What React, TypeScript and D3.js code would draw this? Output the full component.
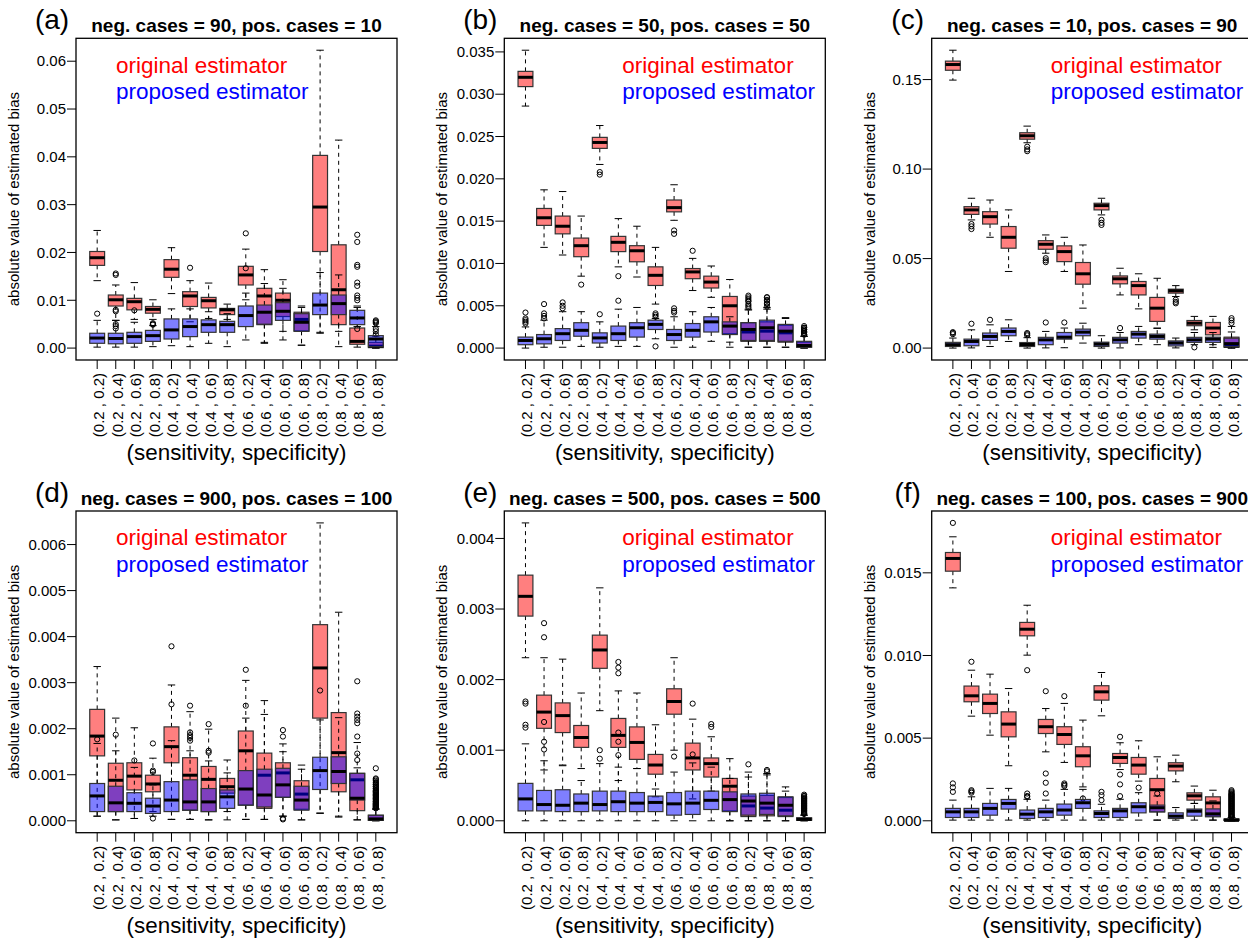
import React from "react";
import * as d3 from "d3";

// ---------- data ----------
const categories = [
  "(0.2 , 0.2)", "(0.2 , 0.4)", "(0.2 , 0.6)", "(0.2 , 0.8)",
  "(0.4 , 0.2)", "(0.4 , 0.4)", "(0.4 , 0.6)", "(0.4 , 0.8)",
  "(0.6 , 0.2)", "(0.6 , 0.4)", "(0.6 , 0.6)", "(0.6 , 0.8)",
  "(0.8 , 0.2)", "(0.8 , 0.4)", "(0.8 , 0.6)", "(0.8 , 0.8)",
];
const panelLetters = ["(a)", "(b)", "(c)", "(d)", "(e)", "(f)"];
const panelTitles = [
  "neg. cases = 90, pos. cases = 10",
  "neg. cases = 50, pos. cases = 50",
  "neg. cases = 10, pos. cases = 90",
  "neg. cases = 900, pos. cases = 100",
  "neg. cases = 500, pos. cases = 500",
  "neg. cases = 100, pos. cases = 900",
];
const seriesNames = ["original estimator", "proposed estimator"];
const xAxisTitle = "(sensitivity, specificity)";
const yAxisTitle = "absolute value of estimated bias";

const yTicksA = [0, 0.01, 0.02, 0.03, 0.04, 0.05, 0.06];
const yTicksB = [0, 0.005, 0.01, 0.015, 0.02, 0.025, 0.03, 0.035];
const yTicksC = [0, 0.05, 0.1, 0.15];
const yTicksD = [0, 0.001, 0.002, 0.003, 0.004, 0.005, 0.006];
const yTicksE = [0, 0.001, 0.002, 0.003, 0.004];
const yTicksF = [0, 0.005, 0.01, 0.015];
const yTickFormats = [".2f", ".3f", ".2f", ".3f", ".3f", ".3f"];

// each box: [lower whisker, Q1, median, Q3, upper whisker]
// panel (a)
const aOrig = [
  [0.0141, 0.0173, 0.0189, 0.0202, 0.0246], [0.0058, 0.0088, 0.0101, 0.0111, 0.0132],
  [0.0060, 0.0080, 0.0097, 0.0104, 0.0137], [0.0060, 0.0073, 0.0081, 0.0087, 0.0101],
  [0.0114, 0.0148, 0.0165, 0.0185, 0.0210], [0.0055, 0.0087, 0.0109, 0.0118, 0.0141],
  [0.0062, 0.0084, 0.0099, 0.0106, 0.0136], [0.0060, 0.0070, 0.0080, 0.0083, 0.0092],
  [0.0101, 0.0132, 0.0153, 0.0171, 0.0207], [0.0010, 0.0049, 0.0109, 0.0125, 0.0164],
  [0.0035, 0.0066, 0.0100, 0.0115, 0.0143], [0.0006, 0.0036, 0.0060, 0.0075, 0.0088],
  [0.0033, 0.0202, 0.0295, 0.0403, 0.0623], [0.0003, 0.0049, 0.0122, 0.0216, 0.0435],
  [0.0002, 0.0008, 0.0014, 0.0042, 0.0088], [0.0000, 0.0001, 0.0004, 0.0012, 0.0025],
];
const aOrigOut = [
  [], [0.0153, 0.0156, 0.0050, 0.0046, 0.0041], [], [0.0052, 0.0050, 0.0049], [], [0.0168], [], [],
  [0.0240], [], [], [], [], [],
  [0.0237, 0.0222, 0.0174, 0.0170, 0.0137, 0.0130, 0.0110, 0.0105, 0.0100],
  [0.0029, 0.0035, 0.0040, 0.0052, 0.0054, 0.0056, 0.0058],
];
const aProp = [
  [0.0002, 0.0010, 0.0021, 0.0031, 0.0058], [0.0002, 0.0009, 0.0020, 0.0031, 0.0058],
  [0.0002, 0.0010, 0.0024, 0.0033, 0.0054], [0.0003, 0.0014, 0.0026, 0.0037, 0.0047],
  [0.0005, 0.0019, 0.0038, 0.0061, 0.0082], [0.0003, 0.0024, 0.0045, 0.0061, 0.0082],
  [0.0010, 0.0033, 0.0049, 0.0059, 0.0076], [0.0003, 0.0033, 0.0049, 0.0056, 0.0072],
  [0.0017, 0.0045, 0.0068, 0.0088, 0.0115], [0.0012, 0.0050, 0.0075, 0.0090, 0.0135],
  [0.0017, 0.0058, 0.0077, 0.0095, 0.0125], [0.0006, 0.0035, 0.0054, 0.0072, 0.0085],
  [0.0031, 0.0070, 0.0090, 0.0115, 0.0158], [0.0035, 0.0070, 0.0093, 0.0111, 0.0153],
  [0.0045, 0.0049, 0.0063, 0.0079, 0.0085], [0.0000, 0.0003, 0.0019, 0.0026, 0.0045],
];
const aPropOut = [
  [0.0072], [0.0080, 0.0077], [0.0079], [], [], [], [], [], [0.0167], [], [], [], [], [], [0.0040], [],
];

// panel (b)
const bOrig = [
  [0.0286, 0.0309, 0.0320, 0.0327, 0.0352], [0.0119, 0.0145, 0.0154, 0.0165, 0.0187],
  [0.0110, 0.0135, 0.0144, 0.0156, 0.0185], [0.0085, 0.0108, 0.0121, 0.0130, 0.0156],
  [0.0217, 0.0236, 0.0243, 0.0249, 0.0263], [0.0096, 0.0114, 0.0125, 0.0132, 0.0153],
  [0.0084, 0.0102, 0.0115, 0.0121, 0.0144], [0.0052, 0.0074, 0.0086, 0.0096, 0.0119],
  [0.0151, 0.0161, 0.0166, 0.0175, 0.0193], [0.0068, 0.0082, 0.0090, 0.0094, 0.0106],
  [0.0060, 0.0071, 0.0078, 0.0085, 0.0097], [0.0001, 0.0017, 0.0050, 0.0061, 0.0081],
  [0.0001, 0.0008, 0.0019, 0.0030, 0.0045], [0.0001, 0.0008, 0.0020, 0.0031, 0.0046],
  [0.0001, 0.0007, 0.0018, 0.0027, 0.0035], [0.0000, 0.0001, 0.0003, 0.0007, 0.0014],
];
const bOrigOut = [
  [], [], [], [0.0075], [0.0208, 0.0205], [0.0085], [], [], [0.0139, 0.0135], [0.0115], [], [],
  [0.0048, 0.0052, 0.0056, 0.0060], [0.0049, 0.0053, 0.0057, 0.0060], [],
  [0.0016, 0.0018, 0.0020, 0.0022, 0.0024, 0.0026],
];
const bProp = [
  [0.0000, 0.0004, 0.0009, 0.0013, 0.0025], [0.0001, 0.0005, 0.0011, 0.0016, 0.0033],
  [0.0001, 0.0009, 0.0017, 0.0023, 0.0043], [0.0002, 0.0014, 0.0021, 0.0030, 0.0043],
  [0.0001, 0.0006, 0.0012, 0.0018, 0.0031], [0.0002, 0.0009, 0.0017, 0.0026, 0.0046],
  [0.0002, 0.0013, 0.0024, 0.0030, 0.0048], [0.0011, 0.0022, 0.0028, 0.0033, 0.0035],
  [0.0001, 0.0009, 0.0016, 0.0022, 0.0037], [0.0001, 0.0013, 0.0021, 0.0029, 0.0043],
  [0.0008, 0.0019, 0.0031, 0.0037, 0.0048], [0.0007, 0.0016, 0.0026, 0.0031, 0.0037],
  [0.0001, 0.0009, 0.0022, 0.0030, 0.0046], [0.0001, 0.0009, 0.0024, 0.0033, 0.0048],
  [0.0001, 0.0008, 0.0020, 0.0028, 0.0036], [0.0000, 0.0001, 0.0003, 0.0008, 0.0014],
];
const bPropOut = [
  [0.0029, 0.0031, 0.0033, 0.0035, 0.0042], [0.0035, 0.0038, 0.0041, 0.0052],
  [0.0047, 0.0050, 0.0054], [], [0.0040], [0.0056], [], [0.0037, 0.0039, 0.0041, 0.0002],
  [0.0042, 0.0044, 0.0047], [], [], [], [0.0050, 0.0055, 0.0058, 0.0062],
  [0.0052, 0.0056, 0.0060], [], [0.0016, 0.0018, 0.0020, 0.0022, 0.0024],
];

// panel (c)
const cOrig = [
  [0.1497, 0.1552, 0.1584, 0.1603, 0.1664], [0.0716, 0.0747, 0.0772, 0.0790, 0.0837],
  [0.0619, 0.0693, 0.0734, 0.0762, 0.0827], [0.0428, 0.0558, 0.0619, 0.0679, 0.0772],
  [0.1147, 0.1167, 0.1186, 0.1203, 0.1240], [0.0530, 0.0552, 0.0580, 0.0600, 0.0632],
  [0.0428, 0.0483, 0.0539, 0.0571, 0.0619], [0.0223, 0.0357, 0.0415, 0.0478, 0.0576],
  [0.0744, 0.0772, 0.0796, 0.0809, 0.0837], [0.0297, 0.0359, 0.0387, 0.0403, 0.0446],
  [0.0219, 0.0297, 0.0349, 0.0372, 0.0415], [0.0110, 0.0149, 0.0223, 0.0283, 0.0390],
  [0.0288, 0.0307, 0.0320, 0.0329, 0.0349], [0.0102, 0.0125, 0.0139, 0.0154, 0.0177],
  [0.0019, 0.0074, 0.0112, 0.0143, 0.0177], [0.0000, 0.0004, 0.0012, 0.0061, 0.0121],
];
const cOrigOut = [
  [], [0.0693, 0.0680, 0.0665], [], [], [0.1125, 0.1110, 0.1100], [0.0502, 0.0490, 0.0480], [], [],
  [0.0716, 0.0700, 0.0688], [], [], [], [0.0270, 0.0258, 0.0250], [], [], [0.0140, 0.0155, 0.0167],
];
const cProp = [
  [0.0000, 0.0009, 0.0019, 0.0032, 0.0056], [0.0001, 0.0013, 0.0037, 0.0050, 0.0102],
  [0.0009, 0.0043, 0.0065, 0.0084, 0.0130], [0.0037, 0.0069, 0.0093, 0.0112, 0.0158],
  [0.0000, 0.0009, 0.0020, 0.0031, 0.0058], [0.0001, 0.0019, 0.0046, 0.0060, 0.0093],
  [0.0002, 0.0050, 0.0061, 0.0087, 0.0112], [0.0028, 0.0069, 0.0089, 0.0106, 0.0139],
  [0.0000, 0.0009, 0.0022, 0.0033, 0.0069], [0.0001, 0.0028, 0.0046, 0.0060, 0.0087],
  [0.0019, 0.0056, 0.0078, 0.0093, 0.0121], [0.0019, 0.0050, 0.0065, 0.0078, 0.0112],
  [0.0001, 0.0012, 0.0028, 0.0040, 0.0056], [0.0019, 0.0032, 0.0046, 0.0060, 0.0087],
  [0.0004, 0.0032, 0.0050, 0.0061, 0.0087], [0.0000, 0.0008, 0.0025, 0.0055, 0.0090],
];
const cPropOut = [
  [0.0078, 0.0085, 0.0089], [0.0136], [0.0158], [], [0.0071, 0.0078, 0.0084], [0.0143], [0.0143], [],
  [], [0.0112], [], [], [], [0.0004], [], [],
];

// panel (d)
const dOrig = [
  [0.00010, 0.00141, 0.00184, 0.00242, 0.00335], [0.00002, 0.00020, 0.00088, 0.00125, 0.00223],
  [0.00005, 0.00067, 0.00097, 0.00126, 0.00202], [0.00020, 0.00063, 0.00080, 0.00099, 0.00136],
  [0.00003, 0.00126, 0.00161, 0.00204, 0.00295], [0.00003, 0.00023, 0.00099, 0.00137, 0.00237],
  [0.00002, 0.00020, 0.00090, 0.00118, 0.00199], [0.00020, 0.00060, 0.00074, 0.00092, 0.00132],
  [0.00003, 0.00034, 0.00152, 0.00195, 0.00305], [0.00003, 0.00027, 0.00099, 0.00147, 0.00261],
  [0.00010, 0.00051, 0.00104, 0.00126, 0.00167], [0.00002, 0.00025, 0.00058, 0.00087, 0.00121],
  [0.00016, 0.00223, 0.00332, 0.00426, 0.00647], [0.00008, 0.00063, 0.00148, 0.00235, 0.00453],
  [0.00002, 0.00022, 0.00089, 0.00103, 0.00170], [0.00000, 0.00001, 0.00003, 0.00012, 0.00025],
];
const dOrigOut = [
  [], [], [], [0.00168], [0.00379], [0.00250], [0.00210], [], [0.00328], [], [0.00197, 0.00183], [],
  [], [], [0.00303, 0.00233, 0.00226, 0.00219, 0.00212, 0.00183],
  [0.00114, 0.00092, 0.00087, 0.00082, 0.00078, 0.00074, 0.00070, 0.00066, 0.00063, 0.00060, 0.00057,
   0.00054, 0.00051, 0.00048, 0.00045, 0.00042, 0.00040, 0.00037, 0.00035, 0.00033, 0.00031, 0.00029, 0.00027],
];
const dProp = [
  [0.00010, 0.00020, 0.00054, 0.00081, 0.00168], [0.00002, 0.00020, 0.00039, 0.00075, 0.00152],
  [0.00005, 0.00020, 0.00038, 0.00061, 0.00116], [0.00010, 0.00016, 0.00032, 0.00049, 0.00078],
  [0.00003, 0.00020, 0.00045, 0.00085, 0.00174], [0.00003, 0.00023, 0.00041, 0.00089, 0.00152],
  [0.00002, 0.00020, 0.00041, 0.00070, 0.00130], [0.00002, 0.00027, 0.00052, 0.00067, 0.00104],
  [0.00003, 0.00034, 0.00069, 0.00109, 0.00223], [0.00003, 0.00030, 0.00056, 0.00112, 0.00231],
  [0.00010, 0.00051, 0.00078, 0.00114, 0.00150], [0.00002, 0.00023, 0.00045, 0.00075, 0.00112],
  [0.00017, 0.00068, 0.00109, 0.00138, 0.00219], [0.00010, 0.00081, 0.00107, 0.00139, 0.00224],
  [0.00002, 0.00045, 0.00049, 0.00103, 0.00115], [0.00000, 0.00001, 0.00004, 0.00012, 0.00026],
];
const dPropOut = [
  [0.00177], [0.00187], [0.00131], [0.00109, 0.00106, 0.00005], [0.00253],
  [0.00192, 0.00186, 0.00180, 0.00174], [0.00152, 0.00148], [], [0.00250], [], [0.00005, 0.00003], [],
  [0.00283], [], [0.00146, 0.00132],
  [0.00090, 0.00084, 0.00079, 0.00075, 0.00071, 0.00067, 0.00064, 0.00061, 0.00058, 0.00055, 0.00052,
   0.00049, 0.00046, 0.00043, 0.00041, 0.00038, 0.00036, 0.00034, 0.00032, 0.00030, 0.00028],
];

// panel (e)
const eOrig = [
  [0.00231, 0.00290, 0.00318, 0.00348, 0.00422], [0.00072, 0.00131, 0.00154, 0.00178, 0.00231],
  [0.00079, 0.00125, 0.00149, 0.00167, 0.00229], [0.00074, 0.00104, 0.00118, 0.00135, 0.00181],
  [0.00156, 0.00216, 0.00242, 0.00263, 0.00330], [0.00057, 0.00104, 0.00121, 0.00145, 0.00184],
  [0.00074, 0.00087, 0.00111, 0.00133, 0.00181], [0.00034, 0.00066, 0.00079, 0.00094, 0.00136],
  [0.00100, 0.00151, 0.00169, 0.00187, 0.00231], [0.00031, 0.00072, 0.00089, 0.00110, 0.00144],
  [0.00042, 0.00062, 0.00081, 0.00089, 0.00119], [0.00000, 0.00014, 0.00049, 0.00060, 0.00088],
  [0.00000, 0.00006, 0.00021, 0.00035, 0.00062], [0.00000, 0.00007, 0.00018, 0.00036, 0.00065],
  [0.00000, 0.00006, 0.00015, 0.00033, 0.00042], [0.00000, 0.00001, 0.00002, 0.00004, 0.00008],
];
const eOrigOut = [
  [], [0.00260, 0.00280], [], [], [], [0.00209, 0.00217, 0.00225], [], [], [], [0.00166],
  [0.00133, 0.00137], [], [], [], [],
  [0.00037, 0.00035, 0.00033, 0.00031, 0.00029, 0.00027, 0.00025, 0.00023, 0.00021, 0.00019,
   0.00017, 0.00015, 0.00013, 0.00011, 0.00010],
];
const eProp = [
  [0.00000, 0.00014, 0.00031, 0.00053, 0.00109], [0.00000, 0.00014, 0.00023, 0.00043, 0.00085],
  [0.00000, 0.00013, 0.00022, 0.00044, 0.00078], [0.00000, 0.00013, 0.00025, 0.00038, 0.00057],
  [0.00000, 0.00014, 0.00023, 0.00042, 0.00081], [0.00000, 0.00013, 0.00027, 0.00042, 0.00076],
  [0.00000, 0.00013, 0.00025, 0.00040, 0.00074], [0.00000, 0.00013, 0.00026, 0.00035, 0.00045],
  [0.00000, 0.00008, 0.00024, 0.00040, 0.00069], [0.00000, 0.00009, 0.00025, 0.00042, 0.00082],
  [0.00000, 0.00016, 0.00029, 0.00042, 0.00076], [0.00000, 0.00013, 0.00030, 0.00041, 0.00060],
  [0.00000, 0.00008, 0.00028, 0.00038, 0.00069], [0.00000, 0.00009, 0.00025, 0.00039, 0.00067],
  [0.00000, 0.00007, 0.00022, 0.00034, 0.00048], [0.00000, 0.00001, 0.00002, 0.00004, 0.00008],
];
const ePropOut = [
  [0.00132, 0.00136, 0.00166, 0.00169], [0.00101, 0.00112, 0.00140], [], [], [0.00088, 0.00100],
  [0.00093, 0.00112, 0.00125], [], [], [0.00091], [0.00094], [], [], [0.00080], [0.00070, 0.00072], [],
  [0.00035, 0.00032, 0.00030, 0.00028, 0.00026, 0.00024, 0.00022, 0.00020, 0.00018, 0.00016,
   0.00014, 0.00012, 0.00010],
];

// panel (f)
const fOrig = [
  [0.01409, 0.01510, 0.01587, 0.01623, 0.01718], [0.00633, 0.00720, 0.00756, 0.00815, 0.00911],
  [0.00518, 0.00649, 0.00710, 0.00766, 0.00887], [0.00333, 0.00508, 0.00585, 0.00659, 0.00800],
  [0.01002, 0.01119, 0.01159, 0.01200, 0.01304], [0.00417, 0.00528, 0.00569, 0.00613, 0.00679],
  [0.00353, 0.00462, 0.00522, 0.00569, 0.00710], [0.00205, 0.00327, 0.00393, 0.00448, 0.00609],
  [0.00635, 0.00730, 0.00780, 0.00817, 0.00897], [0.00310, 0.00347, 0.00383, 0.00407, 0.00472],
  [0.00240, 0.00282, 0.00337, 0.00383, 0.00484], [0.00004, 0.00054, 0.00188, 0.00256, 0.00387],
  [0.00236, 0.00302, 0.00331, 0.00351, 0.00397], [0.00105, 0.00125, 0.00151, 0.00169, 0.00210],
  [0.00004, 0.00028, 0.00108, 0.00145, 0.00185], [0.00000, 0.00002, 0.00004, 0.00010, 0.00020],
];
const fOrigOut = [
  [0.01802], [0.00962], [], [], [0.00911], [0.00784], [0.00754], [0.00135], [],
  [0.00508, 0.00280, 0.00220, 0.00149], [0.00200], [], [], [], [],
  [0.00185, 0.00178, 0.00172, 0.00166, 0.00160, 0.00154, 0.00148, 0.00142, 0.00136, 0.00130,
   0.00124, 0.00118, 0.00112, 0.00106, 0.00100, 0.00094, 0.00088, 0.00082, 0.00076, 0.00070,
   0.00064, 0.00058, 0.00052, 0.00046, 0.00040, 0.00034, 0.00028, 0.00024],
];
const fProp = [
  [0.00004, 0.00020, 0.00054, 0.00075, 0.00125], [0.00004, 0.00020, 0.00054, 0.00075, 0.00145],
  [0.00004, 0.00034, 0.00075, 0.00105, 0.00196], [0.00004, 0.00071, 0.00105, 0.00129, 0.00196],
  [0.00004, 0.00014, 0.00040, 0.00065, 0.00130], [0.00004, 0.00020, 0.00054, 0.00075, 0.00125],
  [0.00004, 0.00034, 0.00065, 0.00101, 0.00190], [0.00004, 0.00075, 0.00109, 0.00129, 0.00190],
  [0.00004, 0.00020, 0.00044, 0.00060, 0.00100], [0.00004, 0.00020, 0.00060, 0.00075, 0.00130],
  [0.00004, 0.00048, 0.00085, 0.00109, 0.00170], [0.00004, 0.00054, 0.00079, 0.00095, 0.00150],
  [0.00004, 0.00014, 0.00028, 0.00048, 0.00080], [0.00004, 0.00028, 0.00058, 0.00071, 0.00105],
  [0.00004, 0.00024, 0.00042, 0.00072, 0.00120], [0.00000, 0.00002, 0.00004, 0.00010, 0.00020],
];
const fPropOut = [
  [0.00175, 0.00202, 0.00226], [0.00170, 0.00178, 0.00185], [], [], [0.00145, 0.00150, 0.00165],
  [0.00165, 0.00230, 0.00286], [0.00210, 0.00218, 0.00226], [], [0.00125, 0.00155, 0.00175], [], [],
  [0.00165], [], [], [],
  [0.00160, 0.00150, 0.00140, 0.00130, 0.00120, 0.00110, 0.00100, 0.00090, 0.00080, 0.00070,
   0.00060, 0.00050, 0.00040, 0.00030, 0.00025],
];

// ---------- assembly ----------
const panels = [
  { orig: aOrig, origOut: aOrigOut, prop: aProp, propOut: aPropOut, ticks: yTicksA },
  { orig: bOrig, origOut: bOrigOut, prop: bProp, propOut: bPropOut, ticks: yTicksB },
  { orig: cOrig, origOut: cOrigOut, prop: cProp, propOut: cPropOut, ticks: yTicksC },
  { orig: dOrig, origOut: dOrigOut, prop: dProp, propOut: dPropOut, ticks: yTicksD },
  { orig: eOrig, origOut: eOrigOut, prop: eProp, propOut: ePropOut, ticks: yTicksE },
  { orig: fOrig, origOut: fOrigOut, prop: fProp, propOut: fPropOut, ticks: yTicksF },
];

const W = 1248;
const H = 942;
const colLeft = [76, 504.3, 931.7];
const rowTop = [38.3, 511];
const legendOffset = [40, 118, 119];
const PW = 321;
const PH = 321.7;
const FONT = "'Liberation Sans', Arial, Helvetica, sans-serif";
const fills = ["rgba(255,0,0,0.5)", "rgba(0,0,255,0.5)"];
const textCols = ["#FF0000", "#0000FF"];

function Series({ stats, outs, x, y, bw, fill }) {
  return (
    <g>
      {stats.map((s, i) => {
        const cx = x(i + 1);
        const [lo, q1, md, q3, hi] = s;
        const sw = bw / 4;
        return (
          <g key={i}>
            <line x1={cx} x2={cx} y1={y(q3)} y2={y(hi)} stroke="#000" strokeDasharray="4,4" />
            <line x1={cx} x2={cx} y1={y(q1)} y2={y(lo)} stroke="#000" strokeDasharray="4,4" />
            <line x1={cx - sw} x2={cx + sw} y1={y(hi)} y2={y(hi)} stroke="#000" />
            <line x1={cx - sw} x2={cx + sw} y1={y(lo)} y2={y(lo)} stroke="#000" />
            <rect x={cx - bw / 2} y={y(q3)} width={bw} height={Math.max(0.5, y(q1) - y(q3))}
              fill={fill} stroke="#333" strokeWidth={1.2} />
            <line x1={cx - bw / 2} x2={cx + bw / 2} y1={y(md)} y2={y(md)} stroke="#000" strokeWidth={3} />
            {outs[i].map((o, j) => (
              <circle key={j} cx={cx} cy={y(o)} r={2.6} fill="none" stroke="#000" strokeWidth={1} />
            ))}
          </g>
        );
      })}
    </g>
  );
}

function Panel({ idx }) {
  const p = panels[idx];
  const col = idx % 3;
  const row = Math.floor(idx / 3);
  const left = colLeft[col];
  const top = rowTop[row];
  const bottom = top + PH;
  const all = [
    ...p.orig.flat(), ...p.origOut.flat(), ...p.prop.flat(), ...p.propOut.flat(),
  ];
  const [mn, mx] = d3.extent(all);
  const r = mx - mn;
  const y = d3.scaleLinear().domain([mn - 0.04 * r, mx + 0.04 * r]).range([bottom, top]);
  const n = categories.length;
  const ext = 0.04 * n;
  const x = d3.scaleLinear().domain([0.5 - ext, n + 0.5 + ext]).range([left, left + PW]);
  const bw = x(1.4) - x(0.6);
  const fmt = d3.format(yTickFormats[idx]);
  const cx = left + PW / 2;
  const lx = left + legendOffset[col];

  return (
    <g>
      <text x={left - 24} y={top - 9} textAnchor="middle" fontSize={28} fontFamily={FONT}>
        {panelLetters[idx]}
      </text>
      <text x={cx} y={top - 6.5} textAnchor="middle" fontSize={19} fontWeight="bold" fontFamily={FONT}>
        {panelTitles[idx]}
      </text>
      {/* y axis */}
      {p.ticks.map((t, i) => (
        <g key={i}>
          <line x1={left - 9} x2={left} y1={y(t)} y2={y(t)} stroke="#000" />
          <text x={left - 10} y={y(t)} dy="0.35em" textAnchor="end" fontSize={15} fontFamily={FONT}>
            {fmt(t)}
          </text>
        </g>
      ))}
      <text transform={`translate(${left - 57},${top + PH / 2}) rotate(-90)`} textAnchor="middle"
        fontSize={15} fontFamily={FONT}>
        {yAxisTitle}
      </text>
      {/* x axis */}
      {categories.map((c, i) => (
        <g key={i}>
          <line x1={x(i + 1)} x2={x(i + 1)} y1={bottom} y2={bottom + 9} stroke="#000" />
          <text transform={`translate(${x(i + 1) + 7},${bottom + 13}) rotate(-90)`} textAnchor="end"
            fontSize={15} fontFamily={FONT}>
            {c}
          </text>
        </g>
      ))}
      <text x={cx} y={bottom + 100} textAnchor="middle" fontSize={22.4} fontFamily={FONT}>
        {xAxisTitle}
      </text>
      {/* boxes */}
      <Series stats={p.orig} outs={p.origOut} x={x} y={y} bw={bw} fill={fills[0]} />
      <Series stats={p.prop} outs={p.propOut} x={x} y={y} bw={bw} fill={fills[1]} />
      {/* legend */}
      <text x={lx} y={top + 34.4} fontSize={22.5} fill={textCols[0]} fontFamily={FONT}>{seriesNames[0]}</text>
      <text x={lx} y={top + 61} fontSize={22.5} fill={textCols[1]} fontFamily={FONT}>{seriesNames[1]}</text>
      <rect x={left} y={top} width={PW} height={PH} fill="none" stroke="#000" strokeWidth={1.3} />
    </g>
  );
}

export default function App() {
  return (
    <svg width={W} height={H} style={{ position: "absolute", left: 0, top: 0, background: "#fff" }}>
      <rect x={0} y={0} width={W} height={H} fill="#fff" />
      {panels.map((_, i) => (
        <Panel key={i} idx={i} />
      ))}
    </svg>
  );
}
